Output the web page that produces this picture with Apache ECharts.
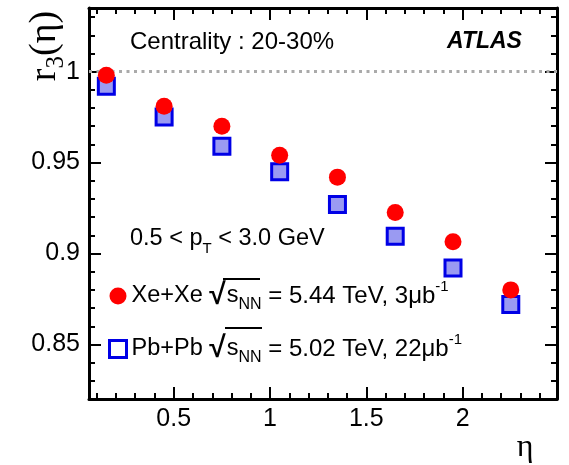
<!DOCTYPE html>
<html><head><meta charset="utf-8">
<script src="https://cdn.jsdelivr.net/npm/echarts@6/dist/echarts.min.js"></script>
<style>html,body{margin:0;padding:0;background:#fff}#c{width:569px;height:465px}</style>
</head><body><div id="c"></div>
<script>
const eta = [0.15, 0.45, 0.75, 1.05, 1.35, 1.65, 1.95, 2.25];
const xeXe = [0.998, 0.981, 0.970, 0.954, 0.942, 0.9225, 0.9065, 0.880];
const pbPb = [0.992, 0.975, 0.959, 0.945, 0.927, 0.9095, 0.892, 0.872];
const xMajor = [0.5, 1, 1.5, 2];
const xMinor = [0.1,0.2,0.3,0.4,0.6,0.7,0.8,0.9,1.1,1.2,1.3,1.4,1.6,1.7,1.8,1.9,2.1,2.2,2.3,2.4];
const yMajor = [0.85, 0.9, 0.95, 1];
const yMinor = [0.83,0.84,0.86,0.87,0.88,0.89,0.91,0.92,0.93,0.94,0.96,0.97,0.98,0.99,1.01,1.02,1.03];
const refLine = 1;
const XMIN = 0.06, XMAX = 2.49, YMIN = 0.82, YMAX = 1.035;

const SANS = '"Liberation Sans", Arial, sans-serif';
const SERIF = '"Liberation Serif", "Times New Roman", serif';

function ax(kind, pos, ticks, len, labels, line) {
  return {
    type: 'value', position: pos,
    min: kind === 'x' ? XMIN : YMIN, max: kind === 'x' ? XMAX : YMAX,
    splitLine: {show: false},
    axisLine: {show: line, onZero: false, lineStyle: {color: '#000', width: 3}},
    axisTick: {show: true, inside: true, length: len, customValues: ticks, lineStyle: {color: '#000', width: 2}},
    axisLabel: labels ? {show: true, customValues: labels, color: '#000', fontFamily: SANS, fontSize: 25, margin: kind === 'x' ? 8 : 9} : {show: false}
  };
}

const chart = echarts.init(document.getElementById('c'), null, {renderer: 'canvas'});
const rich = {
  t: {fontFamily: SANS, fontSize: 23.5, color: '#000', lineHeight: 30},
  e: {fontFamily: SANS, fontSize: 24, color: '#000', lineHeight: 30},
  r: {fontFamily: SANS, fontSize: 30, fontWeight: 'bold', color: '#000', lineHeight: 30, padding: [0, 1, 0, 0]},
  sub: {fontFamily: SANS, fontSize: 16, color: '#000', lineHeight: 15, verticalAlign: 'bottom', padding: [0, 0, -2, 0]},
  sup: {fontFamily: SANS, fontSize: 15, color: '#000', lineHeight: 15, verticalAlign: 'top', padding: [-2, 0, 0, 0]}
};
chart.setOption({
  animation: false,
  backgroundColor: '#fff',
  grid: {left: 89, right: 12, top: 8, bottom: 66},
  xAxis: [
    ax('x', 'bottom', xMajor, 12, xMajor, true),
    ax('x', 'bottom', xMinor, 6, null, false),
    ax('x', 'top', xMajor, 12, null, true),
    ax('x', 'top', xMinor, 6, null, false)
  ],
  yAxis: [
    ax('y', 'left', yMajor, 12, yMajor, true),
    ax('y', 'left', yMinor, 6, null, false),
    ax('y', 'right', yMajor, 12, null, true),
    ax('y', 'right', yMinor, 6, null, false)
  ],
  legend: {
    orient: 'vertical', left: 108, top: 279, padding: 0, itemGap: 19,
    itemWidth: 17, itemHeight: 17, selectedMode: false,
    data: [
      {name: 'Xe+Xe', icon: 'circle'},
      {name: 'Pb+Pb', icon: 'rect', itemStyle: {color: 'rgba(0,0,0,0)', borderColor: '#0000e6', borderWidth: 3}}
    ],
    formatter: n => n === 'Xe+Xe'
      ? '{t|Xe+Xe }{r|√}{t|s}{sub|NN}{e| = 5.44 TeV, 3μb}{sup|-1}'
      : '{t|Pb+Pb }{r|√}{t|s}{sub|NN}{e| = 5.02 TeV, 22μb}{sup|-1}',
    textStyle: {rich: rich}
  },
  series: [
    {
      name: 'Pb+Pb', type: 'scatter', z: 10, xAxisIndex: 0, yAxisIndex: 0,
      data: eta.map((x, i) => [x, pbPb[i]]),
      symbol: 'rect', symbolSize: 16,
      itemStyle: {color: '#9a9af2', borderColor: '#0000e6', borderWidth: 3, opacity: 1},
      markLine: {
        silent: true, symbol: 'none', z: 1, label: {show: false},
        lineStyle: {color: '#aaaaaa', width: 3, type: [3, 4.5]},
        data: [{yAxis: refLine}]
      }
    },
    {
      name: 'Xe+Xe', type: 'scatter', z: 11, xAxisIndex: 0, yAxisIndex: 0,
      data: eta.map((x, i) => [x, xeXe[i]]),
      symbol: 'circle', symbolSize: 17,
      itemStyle: {color: '#ff0000', opacity: 1}
    }
  ],
  graphic: [
    {type: 'text', x: 130, y: 42, style: {text: 'Centrality : 20-30%', font: '24px ' + SANS, fill: '#000', verticalAlign: 'middle'}},
    {type: 'text', x: 447, y: 42, style: {text: 'ATLAS', font: 'italic bold 23px ' + SANS, fill: '#000', verticalAlign: 'middle'}},
    {type: 'text', x: 130, y: 239, style: {
      text: '{a|0.5 < p}{s|T}{a| < 3.0 GeV}', verticalAlign: 'middle',
      rich: {a: {fontFamily: SANS, fontSize: 23.5, fill: '#000', lineHeight: 30},
             s: {fontFamily: SANS, fontSize: 15, fill: '#000', lineHeight: 15, verticalAlign: 'bottom', padding: [0, 0, -2, 0]}}
    }},
    {type: 'text', x: 45, y: 46, rotation: Math.PI / 2, style: {
      text: '{a|r}{s|3}{a|(η)}', align: 'center', verticalAlign: 'middle',
      rich: {a: {fontFamily: SERIF, fontSize: 38, fill: '#000', lineHeight: 40},
             s: {fontFamily: SERIF, fontSize: 25, fill: '#000', lineHeight: 24, verticalAlign: 'bottom', padding: [0, 0, -4, 0]}}
    }},
    {type: 'text', x: 525, y: 448, style: {text: 'η', font: '32px ' + SERIF, fill: '#000', align: 'center', verticalAlign: 'middle'}},
    {type: 'line', shape: {x1: 223, y1: 279, x2: 260, y2: 279}, style: {stroke: '#000', lineWidth: 2}},
    {type: 'line', shape: {x1: 225, y1: 328, x2: 262, y2: 328}, style: {stroke: '#000', lineWidth: 2}}
  ]
});
</script></body></html>
